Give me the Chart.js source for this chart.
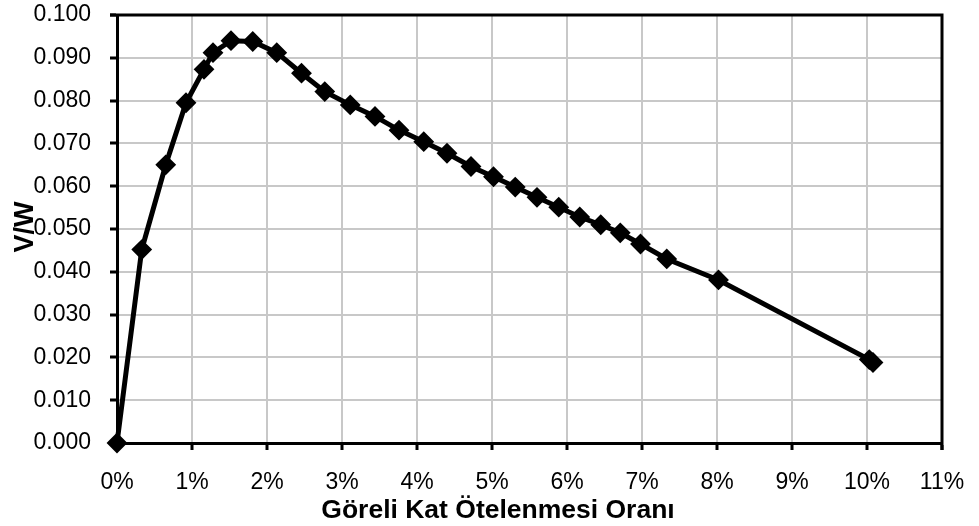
<!DOCTYPE html>
<html>
<head>
<meta charset="utf-8">
<script src="https://cdn.jsdelivr.net/npm/chart.js@4.4.0/dist/chart.umd.min.js"></script>
<style>
  html, body { margin: 0; padding: 0; background: #fff; }
  #wrap { width: 979px; height: 526px; }
</style>
</head>
<body>
<div id="wrap"><canvas id="driftChart" width="979" height="526"></canvas></div>
<script>
// drift ratio (%) and base shear ratio V/W
var driftRatio = [0, 0.33, 0.65, 0.92, 1.16, 1.28, 1.52, 1.81, 2.13, 2.46, 2.77, 3.11, 3.44, 3.76, 4.09, 4.40,
                  4.72, 5.02, 5.31, 5.60, 5.89, 6.17, 6.45, 6.71, 6.98, 7.33, 8.02, 10.03, 10.08];
var shearRatio = [0, 0.0452, 0.0650, 0.0795, 0.0873, 0.0912, 0.0940, 0.0938, 0.0912, 0.0864, 0.0821, 0.0790,
                  0.0763, 0.0731, 0.0704, 0.0677, 0.0646, 0.0622, 0.0598, 0.0574, 0.0551, 0.0528, 0.0510,
                  0.0491, 0.0465, 0.0430, 0.0381, 0.0195, 0.0188];
var xTicks = [0, 1, 2, 3, 4, 5, 6, 7, 8, 9, 10, 11];
var yTicks = [0, 0.01, 0.02, 0.03, 0.04, 0.05, 0.06, 0.07, 0.08, 0.09, 0.1];

var xTitle = 'Göreli Kat Ötelenmesi Oranı';
var yTitle = 'V/W';

var points = driftRatio.map(function(x, i) {
    return { x: x, y: shearRatio[i] };
});

var FONT = "'Liberation Sans', Arial, sans-serif";

// top/right frame and the two axis titles, placed like the original
var framePlugin = {
    id: 'frame',
    beforeDatasetsDraw: function(chart) {
        var a = chart.chartArea, ctx = chart.ctx;
        ctx.save();
        ctx.strokeStyle = '#000';
        ctx.lineWidth = 3;
        ctx.beginPath();
        ctx.moveTo(a.left - 7, a.top);
        ctx.lineTo(a.right, a.top);
        ctx.lineTo(a.right, a.bottom + 7);
        ctx.stroke();
        ctx.restore();
    },
    afterDraw: function(chart) {
        var ctx = chart.ctx;
        ctx.save();
        ctx.fillStyle = '#000';
        ctx.font = 'bold 26.5px ' + FONT;
        ctx.textAlign = 'center';
        ctx.textBaseline = 'alphabetic';
        ctx.fillText(xTitle, 498, 518);
        ctx.translate(33, 227);
        ctx.rotate(-Math.PI / 2);
        ctx.font = 'bold 27px ' + FONT;
        ctx.fillText(yTitle, 0, 0);
        ctx.restore();
    }
};

var ctx = document.getElementById('driftChart').getContext('2d');
var driftChart = new Chart(ctx, {
    type: 'line',
    data: {
        datasets: [{
            label: yTitle,
            data: points,
            borderColor: '#000',
            borderWidth: 5,
            backgroundColor: '#000',
            pointStyle: 'rectRot',
            pointRadius: 9,
            pointBorderWidth: 2,
            pointBackgroundColor: '#000',
            pointBorderColor: '#000',
            tension: 0,
            clip: false
        }]
    },
    options: {
        responsive: false,
        animation: false,
        events: [],
        layout: { padding: { top: 15, right: 37, left: 0, bottom: 0 } },
        plugins: {
            legend: { display: false },
            tooltip: { enabled: false }
        },
        scales: {
            x: {
                type: 'linear',
                min: 0,
                max: 11,
                afterFit: function(scale) {
                    scale.height = 83;
                    scale.paddingLeft = 0;
                    scale.paddingRight = 0;
                },
                afterBuildTicks: function(scale) {
                    scale.ticks = xTicks.map(function(v) { return { value: v }; });
                },
                grid: { color: '#c8c8c8', lineWidth: 2, tickColor: '#000', tickWidth: 3, tickLength: 7 },
                border: { color: '#000', width: 3 },
                ticks: {
                    color: '#000',
                    font: { family: FONT, size: 23 },
                    padding: 19,
                    maxRotation: 0,
                    callback: function(v) { return v + '%'; }
                }
            },
            y: {
                min: 0,
                max: 0.1,
                afterFit: function(scale) {
                    scale.width = 117;
                    scale.paddingTop = 0;
                    scale.paddingBottom = 0;
                },
                afterBuildTicks: function(scale) {
                    scale.ticks = yTicks.map(function(v) { return { value: v }; });
                },
                grid: { color: '#c8c8c8', lineWidth: 2, tickColor: '#000', tickWidth: 3, tickLength: 7 },
                border: { color: '#000', width: 3 },
                ticks: {
                    color: '#000',
                    font: { family: FONT, size: 23 },
                    padding: 19,
                    callback: function(v) { return v.toFixed(3); }
                }
            }
        }
    },
    plugins: [framePlugin]
});
</script>
</body>
</html>
